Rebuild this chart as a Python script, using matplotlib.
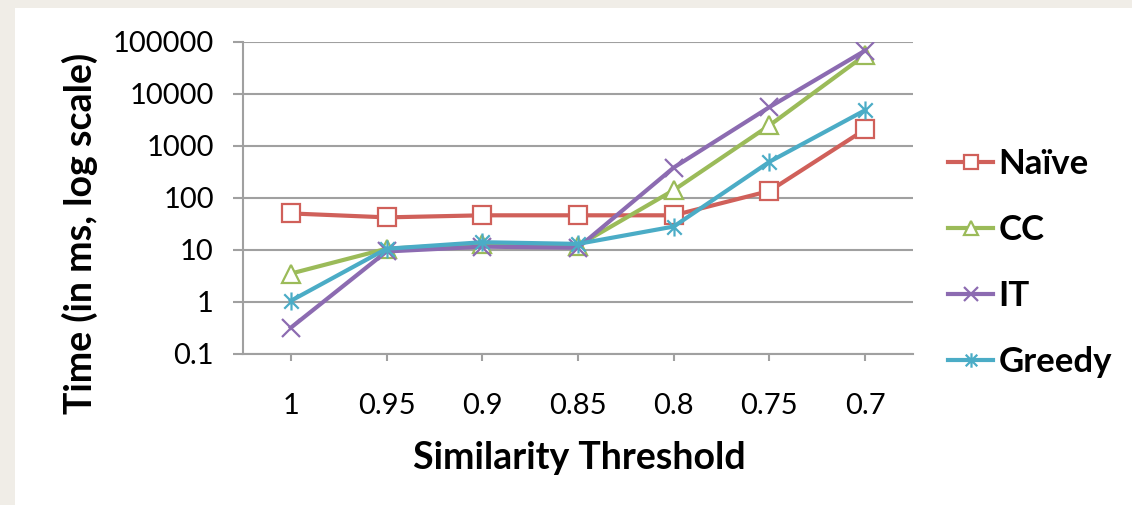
import matplotlib
matplotlib.use("Agg")
import matplotlib.pyplot as plt
from matplotlib.patches import Rectangle
from matplotlib.path import Path
import numpy as np

categories = ["1", "0.95", "0.9", "0.85", "0.8", "0.75", "0.7"]
naive = [50, 42, 46, 46, 46, 135, 2050]
cc = [3.5, 10.5, 13, 12, 140, 2450, 55000]
it = [0.32, 9.3, 11.5, 11, 380, 5500, 67000]
greedy = [1.05, 10.5, 14, 13, 28, 490, 4800]
series_names = ["Naïve", "CC", "IT", "Greedy"]
ytick_vals = [0.1, 1, 10, 100, 1000, 10000, 100000]
ytick_labels = ["0.1", "1", "10", "100", "1000", "10000", "100000"]

colors = ["#D0605A", "#9BBB59", "#8C6BB1", "#4BACC6"]

# asterisk marker: X plus vertical line
ast = Path([(-1, -1), (1, 1), (-1, 1), (1, -1), (0, -1.25), (0, 1.25)],
           [Path.MOVETO, Path.LINETO, Path.MOVETO, Path.LINETO, Path.MOVETO, Path.LINETO])

W, H = 1132, 505
fig = plt.figure(figsize=(W / 100, H / 100), dpi=100, facecolor="#F0EDE7")
fig.patches.append(Rectangle((15 / W, 0), 1 - 15 / W, 1 - 8 / H, transform=fig.transFigure,
                             facecolor="white", edgecolor="none", zorder=-5))

ax = fig.add_axes([243 / W, 1 - 354 / H, (913 - 243) / W, (354 - 41.5) / H])
ax.set_zorder(2)
ax.set_facecolor("none")
x = np.arange(len(categories))

styles = [
    dict(marker="s", markersize=13, mfc="white", mew=1.6),
    dict(marker="^", markersize=13, mfc="white", mew=1.6),
    dict(marker="x", markersize=13, mew=1.6),
    dict(marker=ast, markersize=13, mew=1.6),
]
data = [naive, cc, it, greedy]
for vals, name, c, st in zip(data, series_names, colors, styles):
    ax.plot(x, vals, color=c, lw=3.0, mec=c, label=name, zorder=3, **st)

ax.set_yscale("log")
ax.set_ylim(0.1, 100000)
ax.set_xlim(-0.5, len(categories) - 0.5)
ax.set_yticks(ytick_vals)
ax.set_yticklabels(ytick_labels)
ax.yaxis.set_minor_locator(matplotlib.ticker.NullLocator())
ax.set_xticks(x)
ax.set_xticklabels(categories)
ax.grid(axis="y", color="#A0A0A0", lw=1.5)
for s in ["top", "right"]:
    ax.spines[s].set_visible(False)
for s in ["left", "bottom"]:
    ax.spines[s].set_color("#A0A0A0")
    ax.spines[s].set_linewidth(1.5)
ax.tick_params(axis="y", length=7, width=1.5, color="#A0A0A0", pad=14,
               labelsize=21, labelfontfamily="Lato")
ax.tick_params(axis="x", length=5, width=1.5, color="#A0A0A0", pad=23,
               labelsize=21, labelfontfamily="Lato")

fig.text(80 / W, 1 - 233 / H, "Time (in ms, log scale)", rotation=90, ha="center", va="center",
         fontsize=27, fontweight="bold", family="Lato")
fig.text(579 / W, 1 - 458 / H, "Similarity Threshold", ha="center", va="center",
         fontsize=27, fontweight="bold", family="Lato")

leg = ax.legend(loc="upper left", bbox_to_anchor=(948 / W, 1 - 148 / H), bbox_transform=fig.transFigure,
                frameon=False, prop=dict(family="Lato", weight="bold", size=25),
                handlelength=1.3, handletextpad=0.15, labelspacing=0.98, borderaxespad=0,
                borderpad=0, markerscale=0.8)

fig.savefig("out.png", dpi=100, facecolor=fig.get_facecolor())
